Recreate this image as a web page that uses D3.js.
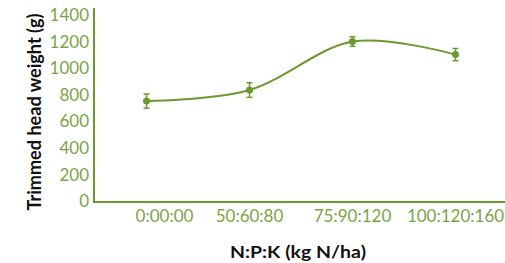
<!DOCTYPE html>
<html><head><meta charset="utf-8">
<script src="https://cdn.jsdelivr.net/npm/d3@7"></script>
<style>body{margin:0;background:#fff}</style>
</head><body>
<svg id="c" width="505" height="263"></svg>
<script>
const categories = ["0:00:00", "50:60:80", "75:90:120", "100:120:160"];
const values = [752, 835, 1200, 1102];
const errors = [53, 55, 36, 46];
const yTicks = [0, 200, 400, 600, 800, 1000, 1200, 1400];

const lineColor = "#6a992f", tickColor = "#79a545";
const svg = d3.select("#c");
const x = d3.scaleBand().domain(categories).range([95, 507]);
const y = d3.scaleLinear().domain([0, 1400]).range([201, 15]);
const cx = d => x(d) + x.bandwidth() / 2;

// axes lines
svg.append("line").attr("x1", 94).attr("x2", 94).attr("y1", 8).attr("y2", 203)
  .attr("stroke", lineColor).attr("stroke-width", 2);
svg.append("line").attr("x1", 93).attr("x2", 505).attr("y1", 202).attr("y2", 202)
  .attr("stroke", lineColor).attr("stroke-width", 2);

// y tick labels
svg.append("g").selectAll("text").data(yTicks).join("text")
  .attr("x", 89).attr("y", d => y(d)).attr("dy", "0.36em")
  .attr("text-anchor", "end").attr("fill", tickColor)
  .attr("font-family", "Lato").attr("font-size", 17).text(d => d);

// x tick labels
svg.append("g").selectAll("text").data(categories).join("text")
  .attr("x", (d, i) => cx(d) + (i === 0 ? 18 : 0)).attr("y", 222)
  .attr("text-anchor", "middle").attr("fill", tickColor)
  .attr("font-family", "Lato").attr("font-size", 17).text(d => d);

// titles
svg.append("text").attr("transform", "translate(41,112) rotate(-90)")
  .attr("text-anchor", "middle").attr("font-family", "Lato").attr("font-weight", "bold")
  .attr("font-size", 18).attr("fill", "#111")
  .attr("textLength", 197).attr("lengthAdjust", "spacingAndGlyphs")
  .text("Trimmed head weight (g)");
svg.append("text").attr("x", 298).attr("y", 258)
  .attr("text-anchor", "middle").attr("font-family", "Lato").attr("font-weight", "bold")
  .attr("font-size", 17.5).attr("fill", "#111")
  .attr("textLength", 136).attr("lengthAdjust", "spacingAndGlyphs")
  .text("N:P:K (kg N/ha)");

// line
const pts = categories.map((c, i) => [cx(c), y(values[i])]);
svg.append("path").attr("d", d3.line().curve(d3.curveCardinal.tension(0))(pts))
  .attr("fill", "none").attr("stroke", lineColor).attr("stroke-width", 2);

// error bars
const eb = svg.append("g").attr("stroke", lineColor).attr("stroke-width", 1.5);
categories.forEach((c, i) => {
  const X = cx(c), y1 = y(values[i] + errors[i]), y2 = y(values[i] - errors[i]);
  eb.append("line").attr("x1", X).attr("x2", X).attr("y1", y1).attr("y2", y2);
  eb.append("line").attr("x1", X - 3).attr("x2", X + 3).attr("y1", y1).attr("y2", y1);
  eb.append("line").attr("x1", X - 3).attr("x2", X + 3).attr("y1", y2).attr("y2", y2);
});
svg.append("g").selectAll("circle").data(categories).join("circle")
  .attr("cx", d => cx(d)).attr("cy", (d, i) => y(values[i])).attr("r", 3.5)
  .attr("fill", lineColor);
</script>
</body></html>
